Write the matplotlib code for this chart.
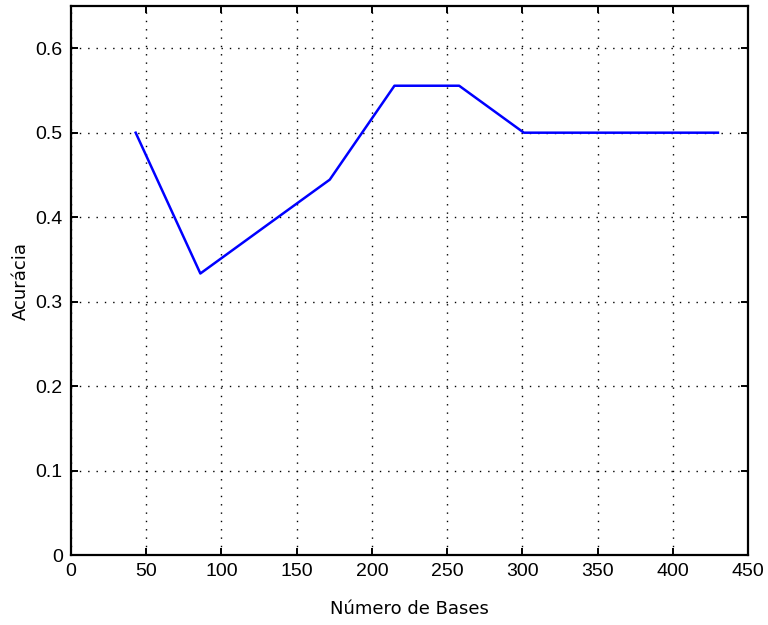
import matplotlib
matplotlib.use("Agg")
import matplotlib.pyplot as plt

# accuracy vs. number of bases
n_bases = [43, 86, 129, 172, 215, 258, 301, 344, 387, 430]
accuracy = [0.5, 0.3333, 0.3889, 0.4444, 0.5556, 0.5556, 0.5, 0.5, 0.5, 0.5]

xticks = [0, 50, 100, 150, 200, 250, 300, 350, 400, 450]
yticks = [0, 0.1, 0.2, 0.3, 0.4, 0.5, 0.6]

fig = plt.figure(figsize=(7.68, 6.25), dpi=100)
ax = fig.add_axes([0.0924, 0.112, 0.8816, 0.8784])

ax.plot(n_bases, accuracy, color=(0, 0, 1), linewidth=1.8)

ax.set_xlim(0, 450)
ax.set_ylim(0, 0.65)
ax.set_xticks(xticks)
ax.set_xticklabels([str(v) for v in xticks])
ax.set_yticks(yticks)
ax.set_yticklabels(["0" if v == 0 else f"{v:.1f}" for v in yticks])

ax.grid(True, color="black", linestyle=(0, (1, 5)), linewidth=1.0)
ax.tick_params(direction="in", top=True, right=True, length=5, width=1.4,
               labelsize=14, pad=6)
for lbl in ax.get_xticklabels() + ax.get_yticklabels():
    lbl.set_family("Liberation Sans")
for s in ax.spines.values():
    s.set_linewidth(1.6)

ax.set_xlabel("Número de Bases", fontsize=13, family="DejaVu Sans", labelpad=14)
ax.set_ylabel("Acurácia", fontsize=13, family="DejaVu Sans", labelpad=4)

fig.savefig("out.png", dpi=100)
